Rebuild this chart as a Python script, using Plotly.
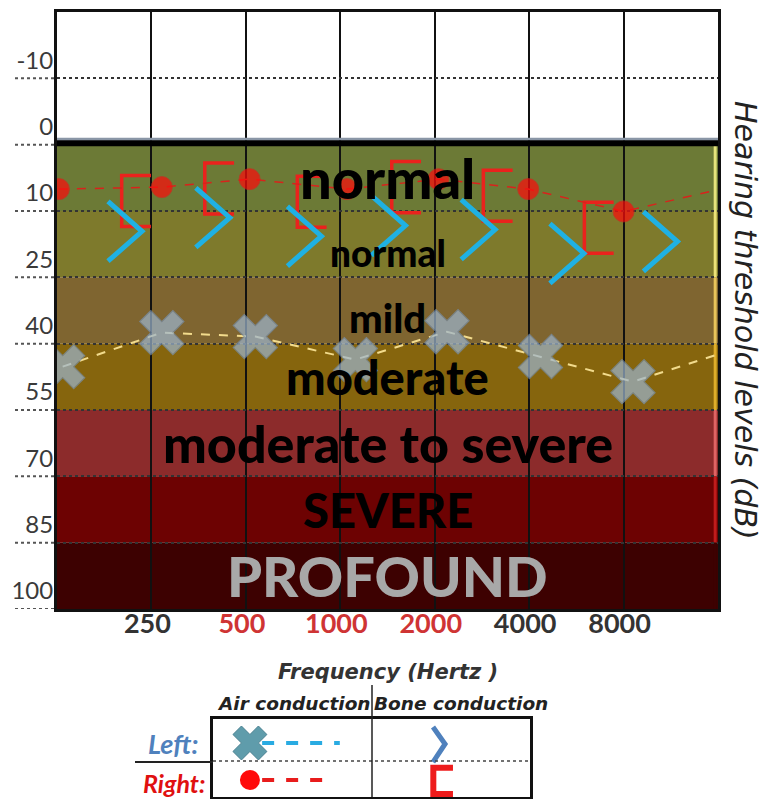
import numpy as np
import plotly.graph_objects as go

# ---------------- data ----------------
level_labels = [-10, 0, 10, 25, 40, 55, 70, 85, 100]
freq_labels = ["250", "500", "1000", "2000", "4000", "8000"]
freq_label_colors = ["#333333", "#cf3434", "#cf3434", "#cf3434", "#333333", "#333333"]

band_names = ["normal", "normal", "mild", "moderate", "moderate to severe", "SEVERE", "PROFOUND"]
band_top_db = [0, 10, 25, 40, 55, 70, 85]
band_bottom_db = [10, 25, 40, 55, 70, 85, 100]
band_colors = ["#6c7a36", "#7e7a2c", "#7f6530", "#86650d", "#8c2b2b", "#6d0202", "#3d0101"]
band_edge_colors = ["#e6e47c", "#ece278", "#e8c45a", "#dfae2a", "#e06464", "#c01c1c", "#3d0101"]
band_text_colors = ["#000000"] * 6 + ["#a8a8a8"]
band_text_sizes = [56, 37, 40, 47, 52, 47, 56]
band_text_nudge = [0, 0.12, 0.12, 0, 0, 0, 0]   # rows, to line up the lowercase words

# right ear, air conduction (red circles); last point is the line running off the chart
right_air_x = [0.02, 1.11, 2.04, 3.07, 4.04, 4.99, 6.0, 7.0]
right_air_db = [6.7, 6.4, 5.2, 6.7, 5.2, 6.7, 10.1, 6.8]

# left ear, air conduction (X); last point is the line running off the chart
left_air_x = [0.06, 1.11, 2.10, 3.16, 4.13, 5.12, 6.10, 7.0]
left_air_db = [45.2, 37.5, 38.4, 43.6, 37.3, 42.9, 48.6, 42.4]

# right ear, bone conduction ("[")
right_bone_x = [0.84, 1.72, 2.70, 3.70, 4.67, 5.74]
right_bone_db = [8.5, 6.6, 8.6, 6.4, 7.7, 13.8]

# left ear, bone conduction (">")
left_bone_x = [0.72, 1.65, 2.62, 3.51, 4.46, 5.40, 6.39]
left_bone_db = [14.6, 11.5, 15.7, 13.3, 14.2, 19.6, 16.9]

W, H = 763, 799
FONT = "Lato"
WIDE = "DejaVu Sans"


def row(db):
    """position on the audiogram's evenly spaced level rows"""
    return np.interp(db, level_labels, np.arange(len(level_labels)))


def px(x):
    return x / W


def py(y):
    return 1 - y / H


fig = go.Figure()

# bone conduction right "[" symbols
bw, bh = 0.31, 0.77
bx, by = [], []
for x, d in zip(right_bone_x, right_bone_db):
    r = float(row(d))
    bx += [x + bw / 2, x - bw / 2, x - bw / 2, x + bw / 2, None]
    by += [r - bh / 2, r - bh / 2, r + bh / 2, r + bh / 2, None]
fig.add_trace(go.Scatter(x=bx, y=by, mode="lines", line=dict(color="#ea221d", width=3.5),
                         hoverinfo="skip"))

# bone conduction left ">" symbols
cw, ch = 0.36, 0.9
cx, cy = [], []
for x, d in zip(left_bone_x, left_bone_db):
    r = float(row(d))
    cx += [x - cw / 2, x + cw / 2, x - cw / 2, None]
    cy += [r - ch / 2, r, r + ch / 2, None]
fig.add_trace(go.Scatter(x=cx, y=cy, mode="lines", line=dict(color="#1fb1e3", width=5),
                         hoverinfo="skip"))

# air conduction right
fig.add_trace(go.Scatter(
    x=right_air_x, y=row(right_air_db), mode="lines+markers",
    line=dict(color="#d8231c", width=1.5, dash="dash"),
    marker=dict(color="#ff0a0a", size=[21] * (len(right_air_x) - 1) + [0]),
    cliponaxis=True))

# air conduction left
fig.add_trace(go.Scatter(
    x=left_air_x, y=row(left_air_db), mode="lines+markers",
    line=dict(color="#f2db8c", width=2, dash="dash"),
    marker=dict(symbol="x", color="#9cb5cf", size=[39] * (len(left_air_x) - 1) + [0],
                line=dict(color="#7891ad", width=1.2)),
    cliponaxis=True))

# ---------------- bands ----------------
shapes = []
annotations = []
for name, t, b, c, ec, tc, ts, nud in zip(band_names, band_top_db, band_bottom_db, band_colors,
                                          band_edge_colors, band_text_colors, band_text_sizes,
                                          band_text_nudge):
    shapes.append(dict(type="rect", xref="x", yref="y", x0=0, x1=7, y0=row(t), y1=row(b),
                       fillcolor=c, line=dict(width=0), layer="below"))
    shapes.append(dict(type="line", xref="x", yref="y", x0=6.97, x1=6.97, y0=row(t), y1=row(b),
                       line=dict(color=ec, width=3), layer="below"))
    annotations.append(dict(x=3.5, y=(row(t) + row(b)) / 2 + nud, xref="x", yref="y", text=name,
                            showarrow=False, xanchor="center", yanchor="middle",
                            font=dict(family=FONT, size=ts, color=tc, weight=900)))

# thick line at 0 dB
shapes.append(dict(type="line", xref="x", yref="y", x0=0, x1=7, y0=row(0) - 0.08,
                   y1=row(0) - 0.08, line=dict(color="#8a96a6", width=3)))
shapes.append(dict(type="line", xref="x", yref="y", x0=0, x1=7, y0=row(0) - 0.02,
                   y1=row(0) - 0.02, line=dict(color="#000000", width=6)))

# dotted level lines extending under the tick labels
for i in range(len(level_labels)):
    shapes.append(dict(type="line", xref="paper", yref="y", x0=px(15), x1=px(57), y0=i, y1=i,
                       line=dict(color="#555555", width=2, dash="dot")))

# ---------------- legend table ----------------
# legend keys drawn on a small second axis (0..2 x 0..2)
fig.add_trace(go.Scatter(x=[0.31, 0.80], y=[1.385, 1.385], mode="lines",
                         line=dict(color="#29abe2", width=4, dash="dash"),
                         xaxis="x2", yaxis="y2"))
fig.add_trace(go.Scatter(x=[0.233], y=[1.385], mode="markers",
                         marker=dict(symbol="x", size=30, color="#5f9cab",
                                     line=dict(color="#4a8191", width=1)),
                         xaxis="x2", yaxis="y2"))
fig.add_trace(go.Scatter(x=[0.31, 0.72], y=[0.436, 0.436], mode="lines",
                         line=dict(color="#e81c1c", width=4, dash="dash"),
                         xaxis="x2", yaxis="y2"))
fig.add_trace(go.Scatter(x=[0.233], y=[0.436], mode="markers",
                         marker=dict(size=20, color="#ff0a0a"),
                         xaxis="x2", yaxis="y2"))
fig.add_trace(go.Scatter(x=[1.388, 1.464, 1.388], y=[1.795, 1.36, 0.897], mode="lines",
                         line=dict(color="#4f81bd", width=5),
                         xaxis="x2", yaxis="y2"))
fig.add_trace(go.Scatter(x=[1.514, 1.39, 1.39, 1.514], y=[0.75, 0.75, 0.08, 0.08],
                         mode="lines", line=dict(color="#ee1c1c", width=6),
                         xaxis="x2", yaxis="y2"))

shapes.append(dict(type="line", xref="x2", yref="y2", x0=0, x1=2, y0=0.92, y1=0.92,
                   line=dict(color="#444444", width=1.5, dash="dot")))
shapes.append(dict(type="line", xref="paper", yref="paper", x0=px(372), x1=px(372),
                   y0=py(685), y1=py(797), line=dict(color="#222222", width=1.5)))
shapes.append(dict(type="line", xref="paper", yref="paper", x0=px(135), x1=px(213),
                   y0=py(762), y1=py(762), line=dict(color="#222222", width=2)))

txt = dict(showarrow=False, xref="paper", yref="paper", xanchor="center", yanchor="middle")
annotations += [
    dict(x=px(746), y=py(320), text="<i>Hearing threshold levels (dB)</i>", textangle=90,
         font=dict(family=WIDE, size=30, color="#222222"), **txt),
    dict(x=px(388), y=py(672), text="<b><i>Frequency (Hertz )</i></b>",
         font=dict(family=WIDE, size=21, color="#333333"), **txt),
    dict(x=px(294), y=py(703), text="<b><i>Air conduction</i></b>",
         font=dict(family=WIDE, size=18.5, color="#222222"), **txt),
    dict(x=px(461), y=py(703), text="<b><i>Bone conduction</i></b>",
         font=dict(family=WIDE, size=18.5, color="#222222"), **txt),
    dict(x=px(173), y=py(743), text="<b><i>Left:</i></b>",
         font=dict(family=FONT, size=27, color="#4f81bd"), **txt),
    dict(x=px(174), y=py(783), text="<b><i>Right:</i></b>",
         font=dict(family=FONT, size=25, color="#e01010"), **txt),
]

ticktext = [f'<span style="color:{c}"><b>{t}</b></span>'
            for t, c in zip(freq_labels, freq_label_colors)]

fig.update_layout(
    width=W, height=H, margin=dict(l=0, r=0, t=0, b=0),
    paper_bgcolor="white", plot_bgcolor="white", showlegend=False,
    shapes=shapes, annotations=annotations,
    xaxis=dict(domain=[px(57), px(718)], range=[0, 7], tickvals=list(range(1, 7)),
               ticktext=ticktext, showgrid=True, gridcolor="#111111", gridwidth=2,
               zeroline=False, showline=True, mirror=True, linecolor="#111111", linewidth=3,
               ticks="", ticklabelstandoff=-11, ticklabelshift=-4,
               tickfont=dict(family=FONT, size=27, weight="bold")),
    yaxis=dict(domain=[py(609), py(12)], range=[8, -1], tickvals=list(range(len(level_labels))),
               ticktext=[str(v) for v in level_labels], showgrid=True, gridcolor="#333333",
               gridwidth=2, griddash="dot", zeroline=False, showline=True, mirror=True,
               linecolor="#111111", linewidth=3, ticks="", ticklabelshift=18,
               ticklabelstandoff=-4,
               tickfont=dict(family=FONT, size=24, color="#3a3a3a")),
    xaxis2=dict(domain=[px(213), px(530)], range=[0, 2], anchor="y2", showgrid=False,
                zeroline=False, showticklabels=False, showline=True, mirror=True,
                linecolor="#111111", linewidth=2.5),
    yaxis2=dict(domain=[py(797), py(719)], range=[0, 2], anchor="x2", showgrid=False,
                zeroline=False, showticklabels=False, showline=True, mirror=True,
                linecolor="#111111", linewidth=2.5),
)

fig.write_html("out.html", config={"displayModeBar": False},
               post_script="document.body.style.margin='0px';")
